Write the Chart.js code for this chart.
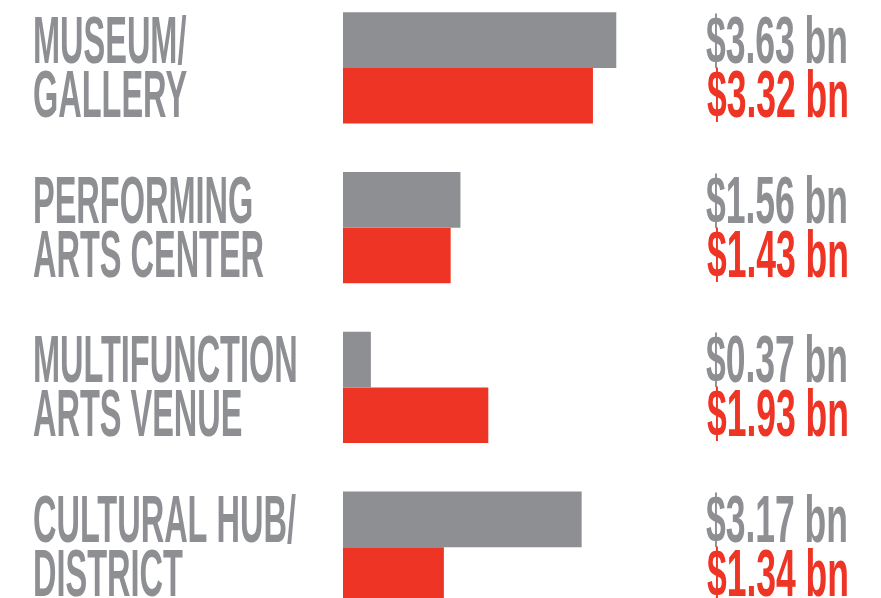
<!DOCTYPE html>
<html>
<head>
<meta charset="utf-8">
<script src="https://cdn.jsdelivr.net/npm/chart.js@4"></script>
<style>
  html, body { margin: 0; padding: 0; background: #ffffff; overflow: hidden; width: 881px; height: 598px; }
  #wrap { position: absolute; left: 0; top: -12px; width: 881px; height: 639px; }
</style>
</head>
<body>
<div id="wrap"><canvas id="c" width="881" height="639"></canvas></div>
<script>
const categories = ['Museum/Gallery', 'Performing Arts Center', 'Multifunction Arts Venue', 'Cultural Hub/District'];
const labelLines = [['MUSEUM/', 'GALLERY'], ['PERFORMING', 'ARTS CENTER'], ['MULTIFUNCTION', 'ARTS VENUE'], ['CULTURAL HUB/', 'DISTRICT']];
const greyValues = [3.63, 1.56, 0.37, 3.17];
const redValues = [3.32, 1.43, 1.93, 1.34];

const GREY = '#8e8f93';
const RED = '#ee3424';
const FONT = 'bold 67px "Liberation Sans", Arial, sans-serif';
const LABEL_SQUEEZE = 0.485;
const VALUE_SQUEEZE = 0.53;

function squeezedText(ctx, text, x, y, align, color, sx) {
  ctx.save();
  ctx.font = FONT;
  ctx.fillStyle = color;
  ctx.textAlign = align;
  ctx.textBaseline = 'alphabetic';
  ctx.translate(x, y);
  ctx.scale(sx, 1);
  ctx.fillText(text, 0, 0);
  ctx.restore();
}

const textPlugin = {
  id: 'textPlugin',
  afterDatasetsDraw(chart) {
    const ctx = chart.ctx;
    const yScale = chart.scales.y;
    categories.forEach((cat, i) => {
      const cy = yScale.getPixelForValue(i);
      const lines = labelLines[i];
      squeezedText(ctx, lines[0], 33, cy - 5, 'left', GREY, LABEL_SQUEEZE);
      squeezedText(ctx, lines[1], 33, cy + 49, 'left', GREY, LABEL_SQUEEZE);
      const g = chart.data.datasets[0].data[i];
      const r = chart.data.datasets[1].data[i];
      squeezedText(ctx, '$' + g.toFixed(2) + ' bn', 848, cy - 5, 'right', GREY, VALUE_SQUEEZE);
      squeezedText(ctx, '$' + r.toFixed(2) + ' bn', 849, cy + 49, 'right', RED, VALUE_SQUEEZE);
    });
  }
};

new Chart(document.getElementById('c'), {
  type: 'bar',
  data: {
    labels: categories,
    datasets: [
      { label: 'Series 1', data: greyValues, backgroundColor: GREY, borderWidth: 0, barPercentage: 1, categoryPercentage: 0.695 },
      { label: 'Series 2', data: redValues, backgroundColor: RED, borderWidth: 0, barPercentage: 1, categoryPercentage: 0.695 }
    ]
  },
  options: {
    indexAxis: 'y',
    responsive: false,
    animation: false,
    devicePixelRatio: 1,
    layout: { padding: { left: 343, right: 11, top: 0, bottom: 0 } },
    plugins: { legend: { display: false }, tooltip: { enabled: false }, title: { display: false } },
    scales: {
      x: { display: false, min: 0, max: 7 },
      y: { display: false, offset: true, grid: { display: false } }
    }
  },
  plugins: [textPlugin]
});
</script>
</body>
</html>
